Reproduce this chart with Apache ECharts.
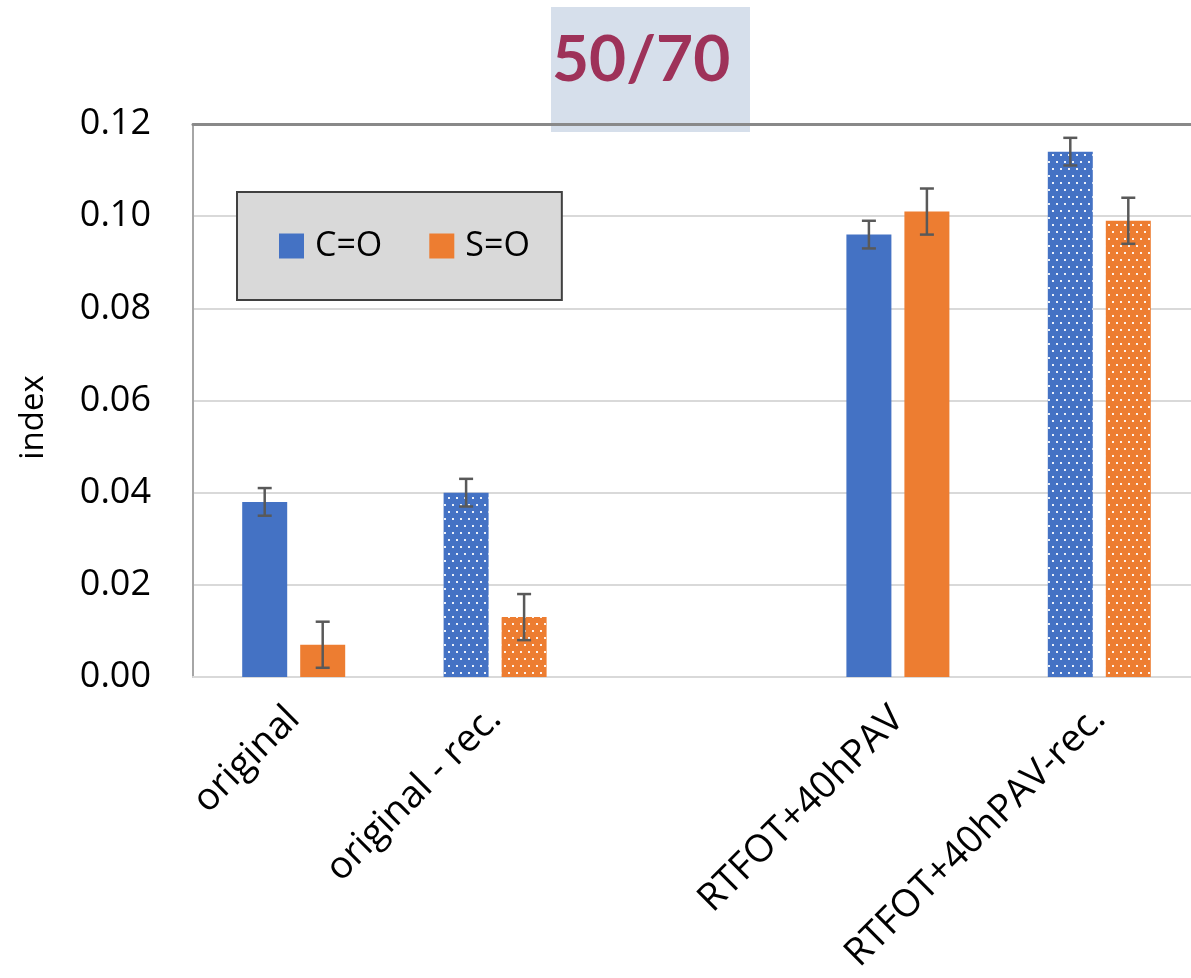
<!DOCTYPE html>
<html>
<head>
<meta charset="utf-8">
<script src="https://cdn.jsdelivr.net/npm/echarts@6/dist/echarts.min.js"></script>
<style>
html,body{margin:0;padding:0;background:#fff;}
#chart{width:1191px;height:978px;}
</style>
</head>
<body>
<div id="chart"></div>
<script>
const titleText = '50/70';
const categories = ['original', 'original - rec.', '', 'RTFOT+40hPAV', 'RTFOT+40hPAV-rec.'];
const recycled = [false, true, false, false, true];
const seriesNames = ['C=O', 'S=O'];
const valuesCO = [0.038, 0.040, null, 0.096, 0.114];
const valuesSO = [0.007, 0.013, null, 0.101, 0.099];
const errCO = [0.003, 0.003, null, 0.003, 0.003];
const errSO = [0.005, 0.005, null, 0.005, 0.005];
const yTicks = [0, 0.02, 0.04, 0.06, 0.08, 0.10, 0.12];

const BLUE = '#4472C4', ORANGE = '#ED7D31';
const BAR_W = 45, BAR_GAP = 13;
const FONT = 'Open Sans';

const decal = {
  symbol: 'rect',
  symbolSize: 1,
  dashArrayX: [[2, 6], [0, 4, 2, 2]],
  dashArrayY: [2, 4.5],
  color: 'rgba(255,255,255,0.9)'
};

function barData(vals) {
  return vals.map((v, i) => recycled[i] && v != null ? { value: v, itemStyle: { decal: decal } } : v);
}
function errData(vals, errs) {
  return vals.map((v, i) => v == null ? [i, null, null] : [i, v, errs[i]]);
}
function errSeries(vals, errs, side) {
  return {
    type: 'custom',
    xAxisIndex: 0, yAxisIndex: 0,
    z: 10,
    silent: true,
    data: errData(vals, errs),
    renderItem: function (params, api) {
      const i = api.value(0), v = api.value(1), e = api.value(2);
      if (v == null || isNaN(v)) return;
      const off = side * (BAR_W + BAR_GAP) / 2;
      const top = api.coord([i, v + e]);
      const bot = api.coord([i, v - e]);
      const x = top[0] + off;
      const cap = 7;
      const st = { stroke: '#595959', lineWidth: 2.5 };
      return {
        type: 'group',
        children: [
          { type: 'line', shape: { x1: x, y1: top[1], x2: x, y2: bot[1] }, style: st },
          { type: 'line', shape: { x1: x - cap, y1: top[1], x2: x + cap, y2: top[1] }, style: st },
          { type: 'line', shape: { x1: x - cap, y1: bot[1], x2: x + cap, y2: bot[1] }, style: st }
        ]
      };
    }
  };
}

const chart = echarts.init(document.getElementById('chart'), null, { renderer: 'canvas' });
chart.setOption({
  animation: false,
  backgroundColor: '#ffffff',
  title: {
    text: titleText,
    left: 547,
    top: 23,
    textStyle: { fontFamily: 'Lato', fontSize: 64, fontWeight: 'bold', color: '#9E3259' }
  },
  graphic: [{
    type: 'rect',
    z: -10,
    shape: { x: 551, y: 7, width: 199, height: 125 },
    style: { fill: '#D6DFEB' }
  }],
  legend: {
    left: 237,
    top: 192,
    orient: 'horizontal',
    data: seriesNames,
    icon: 'rect',
    itemWidth: 25,
    itemHeight: 25,
    itemGap: 47,
    backgroundColor: '#D9D9D9',
    borderColor: '#404040',
    borderWidth: 2,
    padding: [37, 32, 37, 42],
    textStyle: { fontFamily: FONT, fontSize: 34, color: '#000', padding: [0, 0, 0, 6] }
  },
  grid: { left: 193, top: 124, width: 1007, height: 553, containLabel: false, outerBoundsMode: 'none' },
  xAxis: [{
    type: 'category',
    data: categories,
    position: 'bottom',
    axisLine: { show: true, lineStyle: { color: '#D9D9D9', width: 2 } },
    axisTick: { show: false },
    axisLabel: { rotate: 45, fontFamily: FONT, fontSize: 38, color: '#000', margin: 36, interval: 0 },
    splitLine: { show: false }
  }, {
    type: 'category',
    data: categories,
    position: 'top',
    axisLine: { show: true, lineStyle: { color: '#898989', width: 3 } },
    axisTick: { show: false },
    axisLabel: { show: false }
  }],
  yAxis: {
    type: 'value',
    min: 0,
    max: 0.12,
    interval: 0.02,
    name: 'index',
    nameLocation: 'middle',
    nameGap: 143,
    nameRotate: 90,
    nameTextStyle: { fontFamily: FONT, fontSize: 33, color: '#000', padding: [0, 34, 0, 0] },
    axisLine: { show: true, lineStyle: { color: '#A6A6A6', width: 2 } },
    axisTick: { show: false },
    axisLabel: {
      fontFamily: FONT, fontSize: 36, color: '#000', margin: 42,
      formatter: v => v.toFixed(2)
    },
    splitLine: { show: true, lineStyle: { color: '#D9D9D9', width: 2 } }
  },
  series: [
    {
      name: seriesNames[0], type: 'bar', data: barData(valuesCO),
      barWidth: BAR_W, barGap: (BAR_GAP / BAR_W * 100) + '%',
      itemStyle: { color: BLUE }
    },
    {
      name: seriesNames[1], type: 'bar', data: barData(valuesSO),
      barWidth: BAR_W,
      itemStyle: { color: ORANGE }
    },
    errSeries(valuesCO, errCO, -1),
    errSeries(valuesSO, errSO, 1)
  ]
});
</script>
</body>
</html>
